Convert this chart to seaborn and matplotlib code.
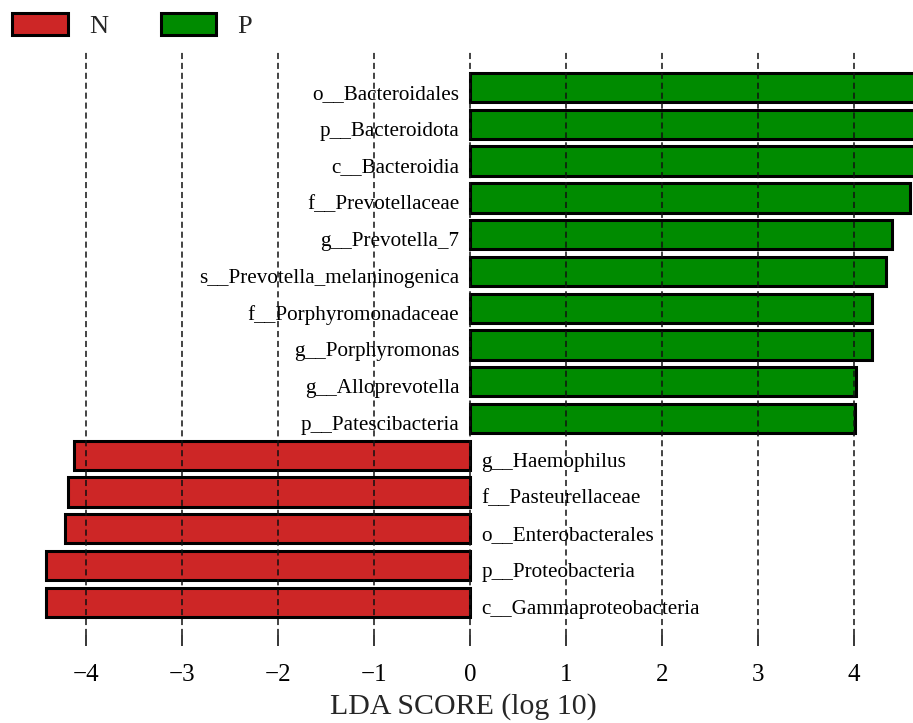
import matplotlib
matplotlib.use("Agg")
import matplotlib.pyplot as plt
from matplotlib.patches import Patch
import seaborn as sns
import pandas as pd

# LEfSe results: taxa ordered top to bottom, LDA scores (log10), enriched group
taxa = [
    "o__Bacteroidales",
    "p__Bacteroidota",
    "c__Bacteroidia",
    "f__Prevotellaceae",
    "g__Prevotella_7",
    "s__Prevotella_melaninogenica",
    "f__Porphyromonadaceae",
    "g__Porphyromonas",
    "g__Alloprevotella",
    "p__Patescibacteria",
    "g__Haemophilus",
    "f__Pasteurellaceae",
    "o__Enterobacterales",
    "p__Proteobacteria",
    "c__Gammaproteobacteria",
]
lda_scores = [4.82, 4.80, 4.78, 4.58, 4.40, 4.33, 4.19, 4.19, 4.02, 4.01,
              -4.13, -4.19, -4.22, -4.42, -4.42]
groups = ["P"] * 10 + ["N"] * 5
x_ticks = [-4, -3, -2, -1, 0, 1, 2, 3, 4]

colors = {"N": "#CD2626", "P": "#008B00"}

df = pd.DataFrame({"taxon": taxa, "lda": lda_scores, "group": groups})

sns.set_style("white")
plt.rcParams["font.family"] = ["Liberation Serif", "DejaVu Serif"]

W, H = 913, 723
fig = plt.figure(figsize=(W / 100, H / 100), dpi=100)
ax_left, ax_right, ax_top, ax_bottom = 14, 913, 52, 635
ax = fig.add_axes([ax_left / W, 1 - ax_bottom / H,
                   (ax_right - ax_left) / W, (ax_bottom - ax_top) / H])

sns.barplot(data=df, x="lda", y="taxon", hue="group", palette=colors,
            order=taxa, orient="h", dodge=False, width=0.8, saturation=1,
            edgecolor="black", linewidth=2.2, legend=False, ax=ax)

ax.set_xlim(-4.75, 4.615)
ax.set_ylim(14.89, -0.97)

# taxon names beside the zero line, on the side opposite to the bar
for i, (name, val) in enumerate(zip(taxa, lda_scores)):
    if val > 0:
        ax.text(-0.11, i + 0.31, name, ha="right", va="baseline",
                fontsize=15.2, color="black", zorder=2)
    else:
        ax.text(0.12, i + 0.31, name, ha="left", va="baseline",
                fontsize=15.2, color="black", zorder=2)

ax.set_yticks([])
ax.set_ylabel("")
ax.set_xticks(x_ticks)
ax.set_xticklabels([f"{t}".replace("-", "\u2212") for t in x_ticks])
ax.tick_params(axis="x", direction="out", length=8, width=1.1, pad=13,
               labelsize=18, colors="black", bottom=True)
ax.set_xlabel("LDA SCORE (log 10)", fontsize=21.5, labelpad=5)

for s in ax.spines.values():
    s.set_visible(False)

ax.set_axisbelow(False)
ax.xaxis.grid(True, linestyle=(0, (4, 2.5)), linewidth=1.1, color="#111111")
for gl in ax.get_xgridlines():
    gl.set_zorder(3)

handles = [Patch(facecolor=colors[g], edgecolor="black", linewidth=2.2, label=g)
           for g in ["N", "P"]]
fig.legend(handles=handles, loc="upper left",
           bbox_to_anchor=(-6 / W, 1 + 5 / H),
           ncol=2, frameon=False, fontsize=19, handlelength=2.1,
           handleheight=0.85, handletextpad=0.8, columnspacing=2.0,
           borderaxespad=0.3)

fig.savefig("out.png", dpi=100)
